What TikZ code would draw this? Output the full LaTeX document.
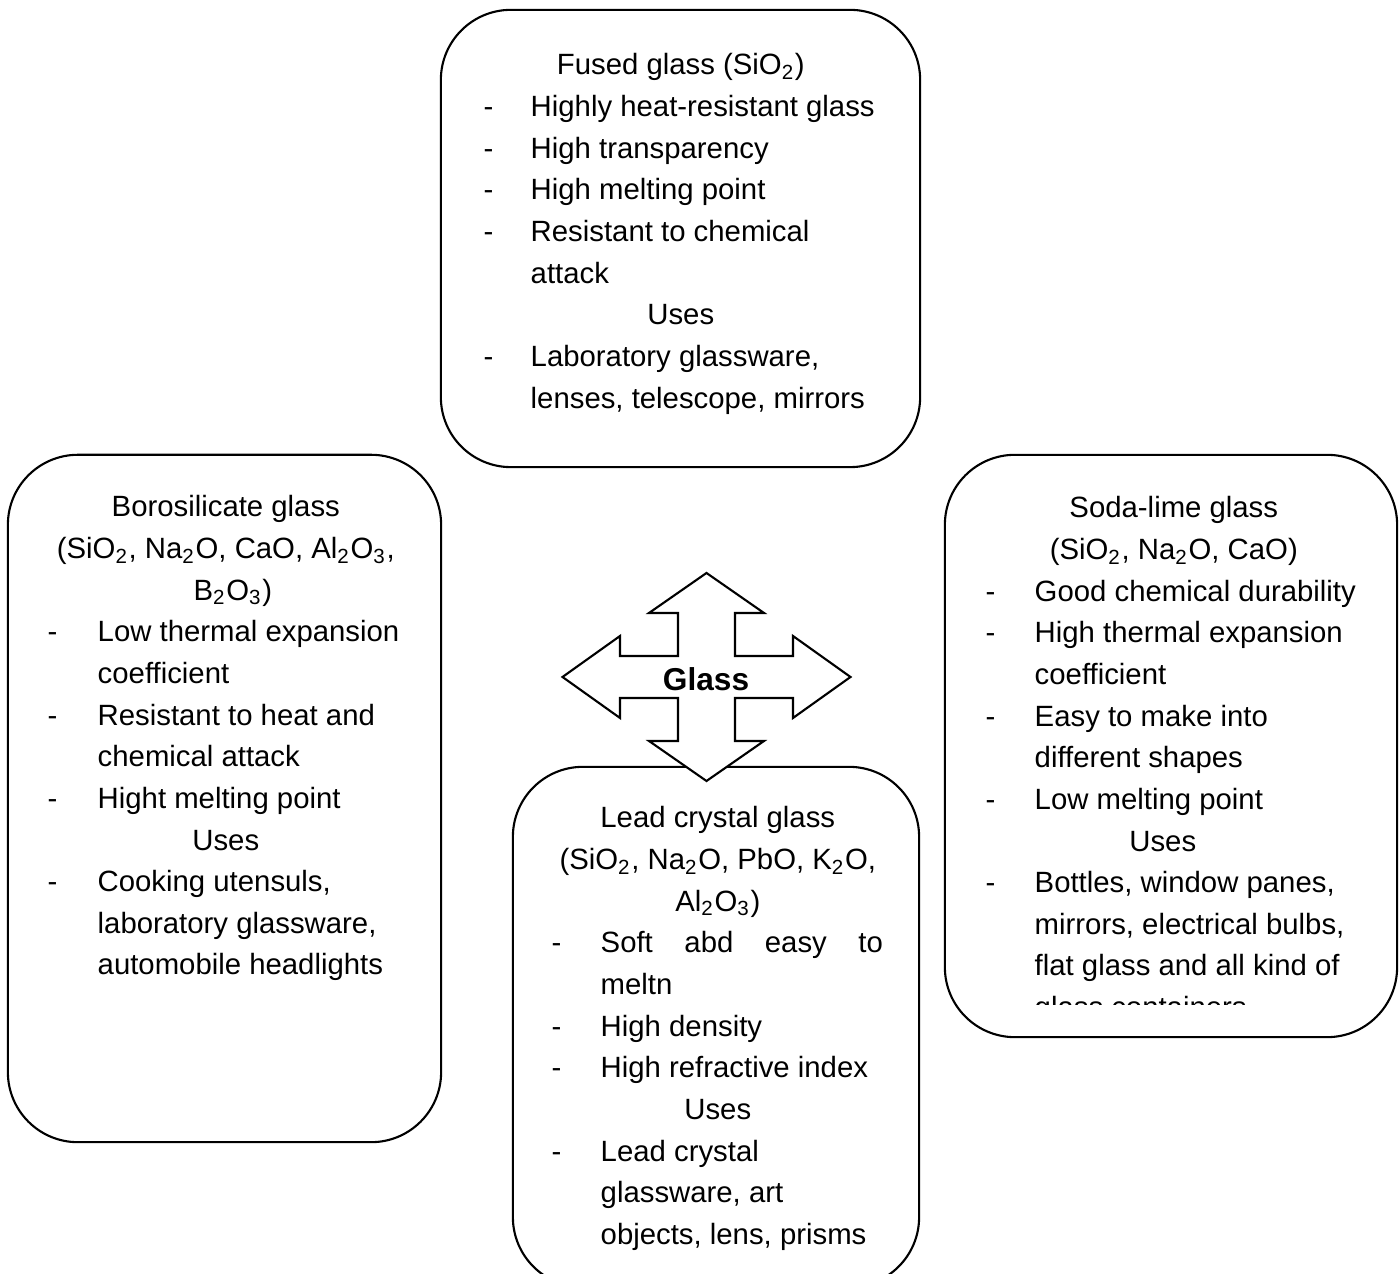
\documentclass[tikz,border=0pt]{standalone}
\usepackage{fontspec}
\setmainfont{Liberation Sans}
\usepackage{array}
\newcommand{\subn}[1]{\textsubscript{#1}}
\newcommand{\midline}[2]{\multicolumn{2}{@{}l@{}}{\makebox[#1][c]{#2}}}
\tikzset{
  frame/.style={draw,line width=0.6pt,rounded corners=0.7cm,inner sep=0pt},
  listtext/.style={inner sep=0pt,anchor=base west,font=\fontsize{8.34}{11.84}\selectfont},
  crossarrow/.style={draw,fill=white,line width=0.6pt,line join=miter}
}

\begin{document}
\begin{tikzpicture}[line cap=round,x=0.01cm,y=-0.01cm]
\useasboundingbox (0,0) rectangle (1399,1274);
\clip (0,0) rectangle (1399,1274);
\node[frame,minimum width=4.79cm,minimum height=4.57cm] (fused) at (680.5,238.5) {};
\node[frame,minimum width=4.33cm,minimum height=6.87cm] (boro) at (224.5,798.5) {};
\node[frame,minimum width=4.52cm,minimum height=5.82cm] (soda) at (1171,746) {};
\node[frame,minimum width=4.06cm,minimum height=5.20cm] (lead) at (716,1027) {};
\node[listtext] (fusedtxt) at (483,75) {\begin{tabular}[t]{@{}p{4.7mm}@{}l@{}}
\midline{39.4mm}{Fused glass (SiO\subn{2})}\\
- & Highly heat-resistant glass\\
- & High transparency\\
- & High melting point\\
- & Resistant to chemical\\
 & attack\\
\midline{39.4mm}{Uses}\\
- & Laboratory glassware,\\
 & lenses, telescope, mirrors
\end{tabular}};
\node[listtext] (borotxt) at (47,517) {\begin{tabular}[t]{@{}p{5.0mm}@{}l@{}}
\midline{35.6mm}{Borosilicate glass}\\
\midline{35.6mm}{(SiO\subn{2}, Na\subn{2}O, CaO, Al\subn{2}O\subn{3},}\\
\midline{37mm}{B\subn{2}O\subn{3})}\\
- & Low thermal expansion\\
 & coefficient\\
- & Resistant to heat and\\
 & chemical attack\\
- & Hight melting point\\
\midline{35.6mm}{Uses}\\
- & Cooking utensuls,\\
 & laboratory glassware,\\
 & automobile headlights
\end{tabular}};
\begin{scope}
\clip (945,455) rectangle (1397,1005);
\node[listtext] (sodatxt) at (985,518) {\begin{tabular}[t]{@{}p{4.9mm}@{}l@{}}
\midline{37.6mm}{Soda-lime glass}\\
\midline{37.6mm}{(SiO\subn{2}, Na\subn{2}O, CaO)}\\
- & Good chemical durability\\
- & High thermal expansion\\
 & coefficient\\
- & Easy to make into\\
 & different shapes\\
- & Low melting point\\
\midline{35.4mm}{Uses}\\
- & Bottles, window panes,\\
 & mirrors, electrical bulbs,\\
 & flat glass and all kind of\\
 & glass containers
\end{tabular}};
\end{scope}
\node[listtext] (leadtxt) at (551,828) {\begin{tabular}[t]{@{}p{4.9mm}@{}l@{}}
\midline{33.2mm}{Lead crystal glass}\\
\midline{33.2mm}{(SiO\subn{2}, Na\subn{2}O, PbO, K\subn{2}O,}\\
\midline{33.2mm}{Al\subn{2}O\subn{3})}\\
- & \makebox[28.2mm][s]{Soft abd easy to}\\
 & meltn\\
- & High density\\
- & High refractive index\\
\midline{33.2mm}{Uses}\\
- & Lead crystal\\
 & glassware, art\\
 & objects, lens, prisms
\end{tabular}};
\draw[crossarrow,shift={(706.5,677)}] (0,-104) -- (57.5,-64) -- (28.5,-64) -- (28.5,-21) -- (86.5,-21) -- (86.5,-41) -- (144,0) -- (86.5,41) -- (86.5,21) -- (28.5,21) -- (28.5,64) -- (57.5,64) -- (0,104) -- (-57.5,64) -- (-28.5,64) -- (-28.5,21) -- (-86.5,21) -- (-86.5,41) -- (-144,0) -- (-86.5,-41) -- (-86.5,-21) -- (-28.5,-21) -- (-28.5,-64) -- (-57.5,-64) -- cycle;
\node[font=\fontsize{9}{11}\selectfont\bfseries,inner sep=0pt] (glass) at (706,679) {Glass};
\end{tikzpicture}
\end{document}
